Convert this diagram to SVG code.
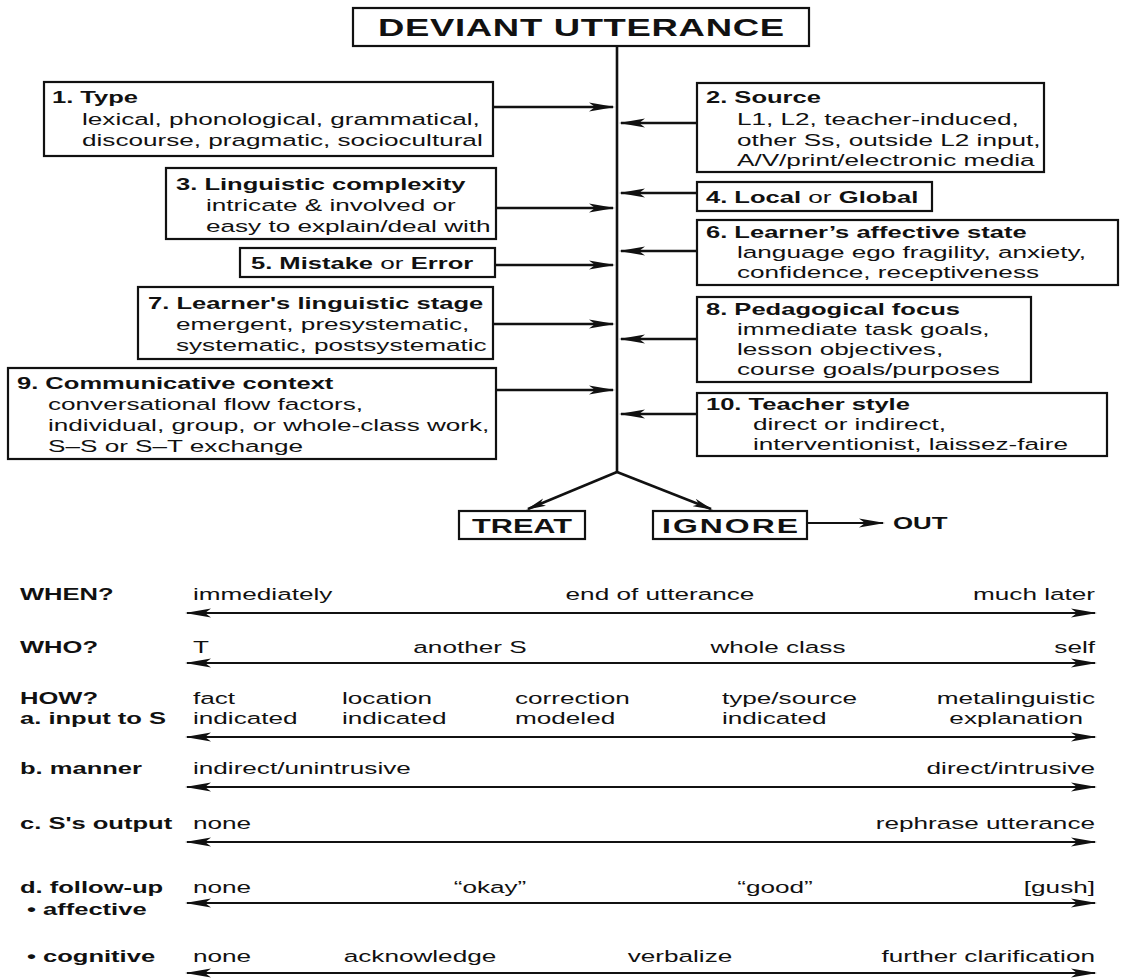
<svg xmlns="http://www.w3.org/2000/svg" width="1127" height="978" viewBox="0 0 1127 978">
<style>
.bg{fill:#fff}
.box{fill:#fff;stroke:#111;stroke-width:2.2}
.ln{stroke:#111;stroke-width:2.6;fill:none}
.sc{stroke:#111;stroke-width:2.2;fill:none}
text{font-family:"Liberation Sans",Arial,sans-serif;font-size:17.2px;fill:#111}
.b{font-weight:bold;font-size:16.8px}
.h{font-weight:bold;font-size:24px}
.hb{font-weight:bold;font-size:21px}
.m{text-anchor:middle}
.e{text-anchor:end}
</style>
<defs>
<marker id="ah" markerUnits="userSpaceOnUse" viewBox="0 0 26 10" markerWidth="26" markerHeight="10" refX="24" refY="5" orient="auto-start-reverse"><path d="M0,0.6 L26,5 L0,9.4 L6,5 z" fill="#111"/></marker>
<marker id="as" markerUnits="userSpaceOnUse" viewBox="0 0 20 9" markerWidth="20" markerHeight="9" refX="18" refY="4.5" orient="auto"><path d="M0,0.5 L20,4.5 L0,8.5 L5,4.5 z" fill="#111"/></marker>
</defs>
<rect class="bg" x="0" y="0" width="1127" height="978"/>

<g id="connectors">
<line class="ln" x1="617" y1="46" x2="617" y2="473"/>
<line class="ln" x1="493" y1="107" x2="613" y2="107" marker-end="url(#ah)"/>
<line class="ln" x1="496" y1="208" x2="613" y2="208" marker-end="url(#ah)"/>
<line class="ln" x1="495" y1="265" x2="613" y2="265" marker-end="url(#ah)"/>
<line class="ln" x1="493" y1="324" x2="613" y2="324" marker-end="url(#ah)"/>
<line class="ln" x1="496" y1="390" x2="613" y2="390" marker-end="url(#ah)"/>
<line class="ln" x1="697" y1="123" x2="621" y2="123" marker-end="url(#ah)"/>
<line class="ln" x1="697" y1="193" x2="621" y2="193" marker-end="url(#ah)"/>
<line class="ln" x1="697" y1="251" x2="621" y2="251" marker-end="url(#ah)"/>
<line class="ln" x1="697" y1="339" x2="621" y2="339" marker-end="url(#ah)"/>
<line class="ln" x1="697" y1="414" x2="621" y2="414" marker-end="url(#ah)"/>
<line class="ln" x1="617" y1="472" x2="528" y2="509" marker-end="url(#as)"/>
<line class="ln" x1="617" y1="472" x2="711" y2="509" marker-end="url(#as)"/>
<line class="sc" x1="807" y1="523" x2="883" y2="523" marker-end="url(#ah)"/>
<line class="sc" x1="187" y1="613" x2="1095" y2="613" marker-start="url(#ah)" marker-end="url(#ah)"/>
<line class="sc" x1="187" y1="663" x2="1095" y2="663" marker-start="url(#ah)" marker-end="url(#ah)"/>
<line class="sc" x1="187" y1="737" x2="1095" y2="737" marker-start="url(#ah)" marker-end="url(#ah)"/>
<line class="sc" x1="187" y1="787" x2="1095" y2="787" marker-start="url(#ah)" marker-end="url(#ah)"/>
<line class="sc" x1="187" y1="842" x2="1095" y2="842" marker-start="url(#ah)" marker-end="url(#ah)"/>
<line class="sc" x1="187" y1="903" x2="1095" y2="903" marker-start="url(#ah)" marker-end="url(#ah)"/>
<line class="sc" x1="187" y1="973" x2="1095" y2="973" marker-start="url(#ah)" marker-end="url(#ah)"/>
</g>

<g id="deviant">
<rect class="box" x="353" y="8" width="456" height="38"/>
<g transform="scale(1.52 1)"><text class="h m" x="382.24" y="36" textLength="267.1" lengthAdjust="spacing">DEVIANT UTTERANCE</text></g>
</g>

<g id="n1">
<rect class="box" x="44" y="82" width="449" height="74"/>
<g transform="scale(1.52 1)">
<text class="b" x="34.21" y="103">1. Type</text>
<text x="53.95" y="125">lexical, phonological, grammatical,</text>
<text x="53.95" y="146">discourse, pragmatic, sociocultural</text>
</g>
</g>

<g id="n2">
<rect class="box" x="697" y="83" width="347" height="89"/>
<g transform="scale(1.52 1)">
<text class="b" x="464.47" y="103">2. Source</text>
<text x="484.87" y="125">L1, L2, teacher-induced,</text>
<text x="484.87" y="146">other Ss, outside L2 input,</text>
<text x="484.87" y="166">A/V/print/electronic media</text>
</g>
</g>

<g id="n3">
<rect class="box" x="166" y="168" width="330" height="71"/>
<g transform="scale(1.52 1)">
<text class="b" x="115.79" y="190">3. Linguistic complexity</text>
<text x="135.53" y="211">intricate &amp; involved or</text>
<text x="135.53" y="232">easy to explain/deal with</text>
</g>
</g>

<g id="n4">
<rect class="box" x="697" y="182" width="235" height="29"/>
<g transform="scale(1.52 1)">
<text x="464.47" y="203"><tspan class="b">4. Local</tspan> or <tspan class="b">Global</tspan></text>
</g>
</g>

<g id="n5">
<rect class="box" x="240" y="248" width="255" height="29"/>
<g transform="scale(1.52 1)">
<text x="165.13" y="269"><tspan class="b">5. Mistake</tspan> or <tspan class="b">Error</tspan></text>
</g>
</g>

<g id="n6">
<rect class="box" x="697" y="220" width="421" height="65"/>
<g transform="scale(1.52 1)">
<text class="b" x="464.47" y="238">6. Learner’s affective state</text>
<text x="484.87" y="258">language ego fragility, anxiety,</text>
<text x="484.87" y="278">confidence, receptiveness</text>
</g>
</g>

<g id="n7">
<rect class="box" x="138" y="287" width="355" height="72"/>
<g transform="scale(1.52 1)">
<text class="b" x="97.37" y="309">7. Learner's linguistic stage</text>
<text x="115.79" y="330">emergent, presystematic,</text>
<text x="115.79" y="351">systematic, postsystematic</text>
</g>
</g>

<g id="n8">
<rect class="box" x="697" y="297" width="334" height="85"/>
<g transform="scale(1.52 1)">
<text class="b" x="464.47" y="315">8. Pedagogical focus</text>
<text x="484.87" y="335">immediate task goals,</text>
<text x="484.87" y="355">lesson objectives,</text>
<text x="484.87" y="375">course goals/purposes</text>
</g>
</g>

<g id="n9">
<rect class="box" x="8" y="368" width="488" height="91"/>
<g transform="scale(1.52 1)">
<text class="b" x="11.18" y="389">9. Communicative context</text>
<text x="31.58" y="410">conversational flow factors,</text>
<text x="31.58" y="431">individual, group, or whole-class work,</text>
<text x="31.58" y="452">S–S or S–T exchange</text>
</g>
</g>

<g id="n10">
<rect class="box" x="697" y="393" width="410" height="63"/>
<g transform="scale(1.52 1)">
<text class="b" x="464.47" y="410">10. Teacher style</text>
<text x="495.39" y="430">direct or indirect,</text>
<text x="495.39" y="450">interventionist, laissez-faire</text>
</g>
</g>

<g id="treat">
<rect class="box" x="459" y="511" width="126" height="28"/>
<g transform="scale(1.52 1)"><text class="hb m" x="343.42" y="533" textLength="65.8" lengthAdjust="spacingAndGlyphs">TREAT</text></g>
</g>

<g id="ignore">
<rect class="box" x="653" y="511" width="154" height="28"/>
<g transform="scale(1.52 1)"><text class="hb m" x="480.26" y="533" textLength="89.5" lengthAdjust="spacing">IGNORE</text></g>
</g>

<g id="out">
<g transform="scale(1.52 1)"><text class="b" style="font-size:17px" x="587.5" y="529">OUT</text></g>
</g>

<g id="scales" transform="scale(1.52 1)">
<text class="b" x="13.16" y="600">WHEN?</text>
<text x="126.97" y="600">immediately</text>
<text class="m" x="434.21" y="600">end of utterance</text>
<text class="e" x="720.39" y="600">much later</text>

<text class="b" x="13.16" y="653">WHO?</text>
<text x="126.97" y="653">T</text>
<text class="m" x="309.21" y="653">another S</text>
<text class="m" x="511.84" y="653">whole class</text>
<text class="e" x="720.39" y="653">self</text>

<text class="b" x="13.16" y="704">HOW?</text>
<text class="b" x="13.16" y="724">a. input to S</text>
<text x="126.97" y="704">fact</text>
<text x="126.97" y="724">indicated</text>
<text x="225" y="704">location</text>
<text x="225" y="724">indicated</text>
<text x="338.82" y="704">correction</text>
<text x="338.82" y="724">modeled</text>
<text x="475" y="704">type/source</text>
<text x="475" y="724">indicated</text>
<text class="e" x="720.39" y="704">metalinguistic</text>
<text class="e" x="712.5" y="724">explanation</text>

<text class="b" x="13.16" y="774">b. manner</text>
<text x="126.97" y="774">indirect/unintrusive</text>
<text class="e" x="720.39" y="774">direct/intrusive</text>

<text class="b" x="13.16" y="829">c. S's output</text>
<text x="126.97" y="829">none</text>
<text class="e" x="720.39" y="829">rephrase utterance</text>

<text class="b" x="13.16" y="893">d. follow-up</text>
<text class="b" x="17.76" y="915">• affective</text>
<text x="126.97" y="893">none</text>
<text class="m" x="322.37" y="893">“okay”</text>
<text class="m" x="509.87" y="893">“good”</text>
<text class="e" x="720.39" y="893">[gush]</text>

<text class="b" x="17.76" y="962">• cognitive</text>
<text x="126.97" y="962">none</text>
<text class="m" x="276.32" y="962">acknowledge</text>
<text class="m" x="447.37" y="962">verbalize</text>
<text class="e" x="720.39" y="962">further clarification</text>
</g>
</svg>
